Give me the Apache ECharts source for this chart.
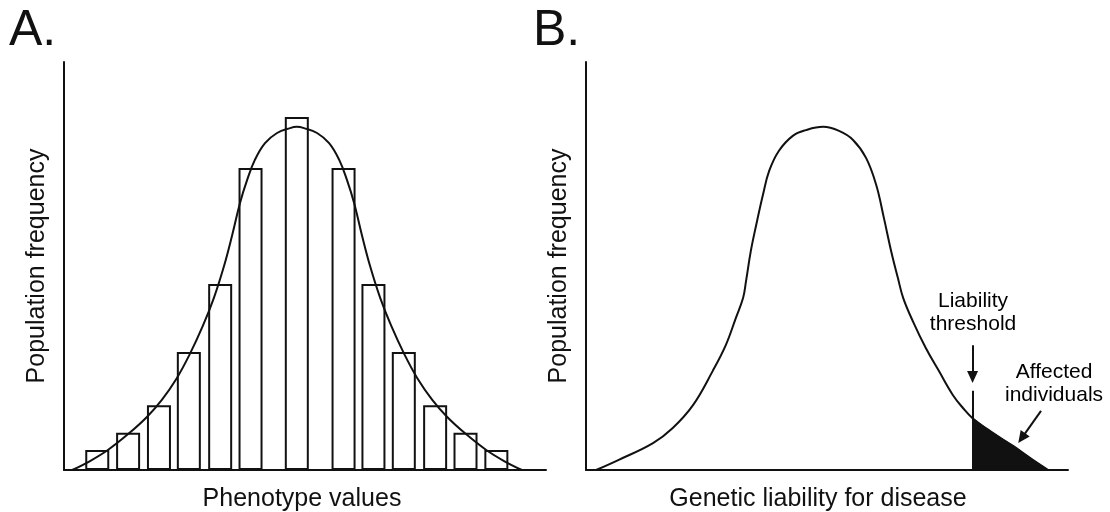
<!DOCTYPE html>
<html><head><meta charset="utf-8">
<script src="https://cdn.jsdelivr.net/npm/echarts@6/dist/echarts.min.js"></script>
<style>html,body{margin:0;padding:0;background:#fff}#c{width:1110px;height:512px}</style>
</head><body><div id="c"></div>
<script>
// ---- Panel A: histogram of phenotype values (arbitrary units 0-100) ----
const aBinCenters = [6.9, 13.3, 19.7, 25.9, 32.4, 38.7, 48.3, 58.0, 64.2, 70.5, 77.0, 83.3, 89.7];
const aBinHeights = [4.9, 9.1, 15.9, 28.9, 45.6, 74.0, 86.5, 74.0, 45.6, 28.9, 15.9, 9.1, 4.9];
const aCurveX = [1.7, 5.4, 9.1, 13.3, 17.2, 20.3, 23.4, 26.1, 28.8, 31.1, 33.2, 34.9, 36.5, 38.0, 39.6, 41.7, 44.2, 46.9, 48.3,
                 49.8, 52.5, 55.0, 57.1, 58.7, 60.2, 61.8, 63.5, 65.6, 67.9, 70.6, 73.3, 76.4, 79.5, 83.4, 87.6, 91.3, 95.0];
const aCurveY = [0, 2.2, 4.9, 8.8, 13.0, 17.2, 22.5, 28.4, 35.3, 42.2, 50.0, 57.6, 65.4, 71.1, 76.0, 80.1, 82.6, 83.8, 84.1,
                 83.8, 82.6, 80.1, 76.0, 71.1, 65.4, 57.6, 50.0, 42.2, 35.3, 28.4, 22.5, 17.2, 13.0, 8.8, 4.9, 2.2, 0];

// ---- Panel B: liability distribution ----
const bCurveX = [2.1, 6.8, 13.9, 18.0, 22.2, 26.3, 29.0, 31.1, 32.6, 33.2, 34.2, 35.3, 36.7, 38.0, 40.0, 42.9, 45.6, 49.2,
                 52.5, 55.4, 58.1, 60.2, 61.8, 63.3, 64.7, 65.8, 67.8, 70.5, 73.2, 76.1, 78.2, 80.2, 84.4, 88.6, 92.7, 95.9];
const bCurveY = [0, 2.5, 6.6, 10.3, 15.9, 24.3, 30.6, 37.3, 42.2, 46.3, 53.7, 60.0, 67.4, 73.3, 78.2, 81.9, 83.3, 84.1,
                 83.1, 80.9, 76.5, 69.9, 61.8, 53.7, 47.1, 42.2, 36.5, 29.9, 24.3, 18.4, 15.2, 12.7, 9.1, 5.9, 2.5, 0];
const threshold = 80.2;
const thresholdLineTop = 19.4;
const thresholdArrow = [[80.2, 30.6], [80.2, 22.8]];
const affectedArrow = [[94.4, 14.5], [90.4, 7.8]];
const annotations = [
  { name: 'Liability\nthreshold', x: 80.3, y: 38.6 },
  { name: 'Affected\nindividuals', x: 97.1, y: 21.1 }
];
const xNames = ['Phenotype values', 'Genetic liability for disease'];
const yName = 'Population frequency';
const panelLabels = ['A.', 'B.'];

const INK = '#111';
const FONT = '"Liberation Sans", Arial, Helvetica, sans-serif';

const zip = (xs, ys) => xs.map((x, i) => [x, ys[i]]);
const bCurve = zip(bCurveX, bCurveY);
const bTail = bCurve.filter(p => p[0] >= threshold);

function axisX(i, name, pad) {
  return {
    type: 'value', gridIndex: i, min: 0, max: 100,
    axisLine: { show: true, onZero: false, lineStyle: { color: INK, width: 2 } },
    axisTick: { show: false }, axisLabel: { show: false }, splitLine: { show: false },
    name: name, nameLocation: 'middle', nameGap: 17,
    nameTextStyle: { fontSize: 25, fontFamily: FONT, color: INK, padding: pad }
  };
}
function axisY(i) {
  return {
    type: 'value', gridIndex: i, min: 0, max: 100,
    axisLine: { show: true, onZero: false, lineStyle: { color: INK, width: 2 } },
    axisTick: { show: false }, axisLabel: { show: false }, splitLine: { show: false },
    name: yName, nameLocation: 'middle', nameGap: 14,
    nameTextStyle: { fontSize: 25, fontFamily: FONT, color: INK }
  };
}

const chart = echarts.init(document.getElementById('c'), null, { renderer: 'canvas' });
chart.setOption({
  animation: false,
  backgroundColor: '#fff',
  grid: [
    { left: 64, top: 62, width: 482, height: 408, outerBoundsMode: 'none', containLabel: false },
    { left: 586, top: 62, width: 482, height: 408, outerBoundsMode: 'none', containLabel: false }
  ],
  xAxis: [axisX(0, xNames[0], [0, 6, 0, 0]), axisX(1, xNames[1], [0, 18, 0, 0])],
  yAxis: [axisY(0), axisY(1)],
  graphic: [
    { type: 'text', left: 9, top: 6, style: { text: panelLabels[0], font: '50px ' + FONT, fill: INK } },
    { type: 'text', left: 533, top: 6, style: { text: panelLabels[1], font: '50px ' + FONT, fill: INK } }
  ],
  series: [
    {
      type: 'bar', xAxisIndex: 0, yAxisIndex: 0, silent: true,
      data: zip(aBinCenters, aBinHeights), barWidth: 24,
      itemStyle: { color: '#fff', borderColor: INK, borderWidth: 2 }
    },
    {
      type: 'line', xAxisIndex: 0, yAxisIndex: 0, silent: true, z: 5,
      data: zip(aCurveX, aCurveY), smooth: 0.4, symbol: 'none',
      lineStyle: { color: INK, width: 2 }
    },
    {
      type: 'line', xAxisIndex: 1, yAxisIndex: 1, silent: true, z: 3,
      data: bTail, smooth: 0.4, symbol: 'none',
      lineStyle: { color: INK, width: 1 },
      areaStyle: { color: INK, opacity: 1 }
    },
    {
      type: 'line', xAxisIndex: 1, yAxisIndex: 1, silent: true, z: 5,
      data: bCurve, smooth: 0.4, symbol: 'none',
      lineStyle: { color: INK, width: 2 },
      markLine: {
        silent: true, animation: false,
        label: { show: false },
        lineStyle: { color: INK, width: 2, type: 'solid' },
        symbol: ['none', 'none'],
        data: [
          [{ coord: [threshold, 0], symbol: 'none' }, { coord: [threshold, thresholdLineTop], symbol: 'none' }],
          [{ coord: thresholdArrow[0], symbol: 'none' }, { coord: thresholdArrow[1], symbol: 'triangle', symbolSize: [11, 12] }],
          [{ coord: affectedArrow[0], symbol: 'none' }, { coord: affectedArrow[1], symbol: 'triangle', symbolSize: [11, 12] }]
        ]
      }
    },
    {
      type: 'scatter', xAxisIndex: 1, yAxisIndex: 1, silent: true, symbolSize: 0,
      itemStyle: { opacity: 1 },
      data: annotations.map(a => ({ name: a.name, value: [a.x, a.y] })),
      label: {
        show: true, position: 'inside', formatter: p => p.name, opacity: 1,
        fontSize: 21, lineHeight: 23, fontFamily: FONT, color: '#000', align: 'center',
        textBorderWidth: 0
      }
    }
  ]
});
</script></body></html>
